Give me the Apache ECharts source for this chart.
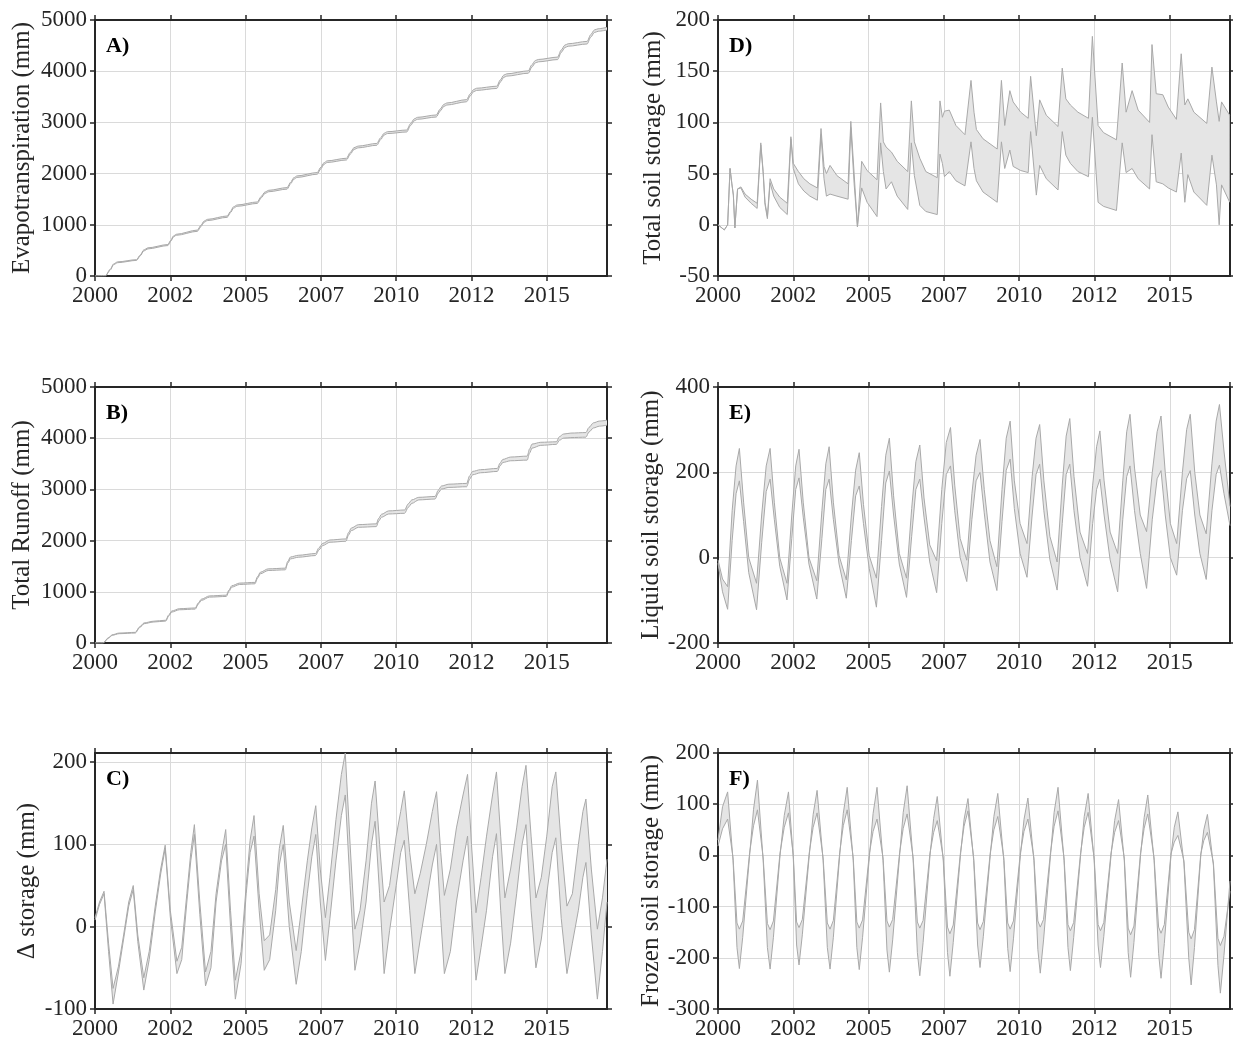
<!DOCTYPE html>
<html>
<head>
<meta charset="utf-8">
<script src="https://cdn.jsdelivr.net/npm/echarts@6/dist/echarts.min.js"></script>
<style>
  html, body { margin: 0; background: #fff; }
  #chart { width: 1233px; height: 1044px; }
</style>
</head>
<body>
<div id="chart"></div>
<script>
// A) cumulative evapotranspiration
const aT = [2000.00, 2000.35, 2000.50, 2000.62, 2000.75,
  2001.38, 2001.50, 2001.62, 2001.76, 2002.42, 2002.52, 2002.60, 2002.70,
  2003.40, 2003.52, 2003.62, 2003.73, 2004.39, 2004.50, 2004.60, 2004.72,
  2005.39, 2005.52, 2005.64, 2005.77, 2006.38, 2006.50, 2006.60, 2006.71,
  2007.38, 2007.50, 2007.60, 2007.71, 2008.35, 2008.48, 2008.60, 2008.74,
  2009.36, 2009.48, 2009.60, 2009.71, 2010.35, 2010.48, 2010.60, 2010.71,
  2011.33, 2011.46, 2011.58, 2011.68, 2012.34, 2012.46, 2012.57, 2012.67,
  2013.34, 2013.46, 2013.57, 2013.67, 2014.39, 2014.50, 2014.62, 2014.72,
  2015.36, 2015.48, 2015.60, 2015.71, 2016.34, 2016.46, 2016.58, 2016.71,
  2017.00]
const aLow = [0, 3, 112, 222, 260,
  305, 392, 490, 530, 595, 680, 760, 795,
  873, 968, 1048, 1082, 1146, 1237, 1327, 1361,
  1418, 1526, 1611, 1646, 1697, 1805, 1890, 1925,
  1989, 2094, 2179, 2217, 2266, 2383, 2473, 2503,
  2554, 2662, 2752, 2782, 2813, 2941, 3031, 3061,
  3105, 3220, 3310, 3339, 3403, 3519, 3599, 3625,
  3663, 3788, 3878, 3904, 3961, 4077, 4162, 4183,
  4227, 4366, 4461, 4488, 4532, 4665, 4755, 4780,
  4806]
const aHigh = [0, 7, 128, 238, 276,
  319, 408, 510, 550, 615, 700, 780, 815,
  897, 992, 1072, 1106, 1172, 1263, 1353, 1387,
  1446, 1554, 1639, 1674, 1727, 1835, 1920, 1955,
  2021, 2126, 2211, 2249, 2300, 2417, 2507, 2537,
  2590, 2698, 2788, 2818, 2851, 2979, 3069, 3099,
  3145, 3260, 3350, 3379, 3445, 3561, 3641, 3667,
  3707, 3832, 3922, 3948, 4007, 4123, 4208, 4229,
  4275, 4414, 4509, 4536, 4582, 4715, 4805, 4830,
  4856]

// B) cumulative runoff
const bT = [2000.00, 2000.27, 2000.45, 2000.57, 2000.80,
  2001.34, 2001.48, 2001.63, 2001.93, 2002.35, 2002.45, 2002.55, 2002.80,
  2003.33, 2003.43, 2003.53, 2003.80, 2004.36, 2004.45, 2004.54, 2004.80,
  2005.31, 2005.40, 2005.49, 2005.75, 2006.32, 2006.40, 2006.49, 2006.75,
  2007.32, 2007.44, 2007.56, 2007.80, 2008.33, 2008.42, 2008.51, 2008.75,
  2009.34, 2009.42, 2009.51, 2009.75, 2010.28, 2010.40, 2010.52, 2010.75,
  2011.29, 2011.40, 2011.50, 2011.75, 2012.34, 2012.44, 2012.54, 2012.80,
  2013.36, 2013.45, 2013.54, 2013.80, 2014.35, 2014.43, 2014.51, 2014.80,
  2015.32, 2015.42, 2015.55, 2015.80, 2016.30, 2016.40, 2016.55, 2016.75,
  2017.00]
const bLow = [0, 0, 95, 150, 182,
  195, 300, 377, 409, 428, 530, 604, 649,
  662, 760, 831, 896, 909, 1010, 1091, 1143,
  1156, 1270, 1351, 1416, 1429, 1560, 1643, 1675,
  1708, 1820, 1903, 1968, 1987, 2110, 2195, 2260,
  2273, 2380, 2455, 2520, 2533, 2650, 2727, 2795,
  2812, 2930, 3007, 3039, 3052, 3200, 3286, 3325,
  3351, 3460, 3526, 3559, 3572, 3710, 3806, 3860,
  3880, 3960, 4000, 4012, 4020, 4120, 4200, 4235,
  4254]
const bHigh = [0, 2, 105, 160, 194,
  208, 315, 392, 425, 445, 550, 625, 670,
  684, 782, 855, 920, 934, 1036, 1118, 1170,
  1184, 1300, 1382, 1448, 1462, 1595, 1680, 1713,
  1748, 1862, 1946, 2012, 2033, 2158, 2245, 2312,
  2327, 2436, 2513, 2580, 2598, 2717, 2795, 2845,
  2862, 2985, 3065, 3102, 3117, 3266, 3352, 3385,
  3410, 3515, 3585, 3632, 3650, 3790, 3885, 3920,
  3930, 4030, 4080, 4100, 4110, 4210, 4300, 4335,
  4351]

// C) change in storage
const cT = [2000.00, 2000.15, 2000.30, 2000.45, 2000.60, 2000.78, 2000.95, 2001.12,
  2001.27, 2001.42, 2001.62, 2001.80, 2002.00, 2002.18,
  2002.33, 2002.50, 2002.72, 2002.88, 2003.05, 2003.18,
  2003.30, 2003.48, 2003.67, 2003.85, 2004.02, 2004.20,
  2004.34, 2004.50, 2004.66, 2004.85, 2005.02, 2005.15,
  2005.28, 2005.45, 2005.62, 2005.80, 2006.00, 2006.12,
  2006.25, 2006.45, 2006.68, 2006.85, 2007.05, 2007.20,
  2007.33, 2007.48, 2007.65, 2007.80, 2008.00, 2008.18,
  2008.31, 2008.47, 2008.63, 2008.80, 2009.00, 2009.18,
  2009.30, 2009.45, 2009.60, 2009.78, 2010.00, 2010.15,
  2010.27, 2010.45, 2010.62, 2010.80, 2011.00, 2011.20,
  2011.34, 2011.48, 2011.60, 2011.80, 2012.00, 2012.22,
  2012.37, 2012.50, 2012.65, 2012.82, 2013.00, 2013.20,
  2013.33, 2013.47, 2013.61, 2013.80, 2014.00, 2014.18,
  2014.31, 2014.48, 2014.64, 2014.82, 2015.00, 2015.18,
  2015.30, 2015.48, 2015.67, 2015.85, 2016.05, 2016.20,
  2016.30, 2016.48, 2016.68, 2016.85, 2017.00]
const cHigh = [11, 30, 43, -20, -75, -48, -10, 30,
  50, -10, -62, -30, 25, 70,
  99, 20, -42, -25, 40, 90,
  124, 30, -55, -30, 40, 88,
  118, 20, -65, -30, 50, 105,
  135, 40, -17, -10, 45, 95,
  123, 30, -29, 20, 80, 120,
  147, 70, 11, 60, 130, 185,
  211, 100, -3, 20, 80, 150,
  177, 100, 30, 50, 110, 140,
  165, 90, 40, 65, 100, 140,
  164, 90, 38, 70, 120, 160,
  185, 100, 17, 60, 110, 160,
  188, 110, 35, 70, 120, 170,
  196, 110, 35, 60, 110, 170,
  188, 100, 25, 40, 100, 140,
  155, 70, -3, 35, 82]
const cLow = [8, 27, 40, -30, -94, -55, -15, 25,
  45, -18, -77, -40, 18, 64,
  95, 12, -57, -40, 30, 80,
  112, 15, -72, -50, 30, 80,
  100, 0, -88, -45, 40, 90,
  110, 20, -53, -40, 20, 75,
  100, 0, -70, -30, 40, 85,
  112, 30, -41, 10, 80, 135,
  160, 50, -53, -20, 30, 100,
  128, 40, -57, -5, 50, 90,
  105, 20, -57, -15, 30, 75,
  100, 10, -57, -30, 30, 80,
  110, 20, -65, -25, 20, 85,
  113, 20, -57, -20, 40, 100,
  124, 20, -50, -15, 40, 90,
  108, 10, -57, -20, 20, 60,
  78, -10, -88, -30, 30]

// D) total soil storage
const dT = [2000.00, 2000.21, 2000.32, 2000.40, 2000.46, 2000.51, 2000.56, 2000.65, 2000.76, 2000.90, 2001.10, 2001.30,
  2001.42, 2001.50, 2001.56, 2001.64, 2001.73, 2001.85, 2002.05, 2002.30,
  2002.42, 2002.50, 2002.67, 2002.85, 2003.05, 2003.30,
  2003.42, 2003.52, 2003.60, 2003.72, 2003.95, 2004.32,
  2004.41, 2004.52, 2004.63, 2004.77, 2004.95, 2005.28,
  2005.40, 2005.49, 2005.58, 2005.76, 2005.95, 2006.30,
  2006.42, 2006.52, 2006.70, 2006.90, 2007.28,
  2007.37, 2007.45, 2007.52, 2007.68, 2007.90, 2008.20,
  2008.40, 2008.50, 2008.58, 2008.80, 2009.27,
  2009.41, 2009.52, 2009.69, 2009.80, 2010.05, 2010.30,
  2010.38, 2010.57, 2010.68, 2010.90, 2011.29,
  2011.43, 2011.55, 2011.70, 2011.95, 2012.30,
  2012.43, 2012.62, 2012.80, 2013.23,
  2013.42, 2013.55, 2013.75, 2013.95, 2014.33,
  2014.41, 2014.55, 2014.77, 2014.95, 2015.22,
  2015.38, 2015.50, 2015.60, 2015.80, 2016.23,
  2016.40, 2016.55, 2016.64, 2016.72, 2016.99]
const dHigh = [0, -5, 0, 55, 40, 29, -3, 35, 37, 30, 25, 21,
  80, 52, 22, 8, 45, 35, 27, 21,
  86, 60, 52, 45, 40, 36,
  94, 57, 50, 58, 48, 40,
  101, 50, -2, 62, 53, 44,
  119, 81, 76, 71, 62, 52,
  121, 81, 65, 52, 46,
  121, 105, 111, 112, 97, 88,
  141, 110, 93, 84, 74,
  141, 97, 131, 120, 110, 104,
  145, 87, 122, 107, 96,
  153, 123, 117, 110, 104,
  184, 97, 90, 83,
  158, 110, 131, 112, 100,
  176, 128, 127, 115, 103,
  167, 117, 123, 110, 99,
  154, 120, 101, 120, 107]
const dLow = [0, -5, 0, 55, 40, 29, -3, 35, 36, 27, 21, 16,
  78, 50, 20, 6, 41, 28, 17, 10,
  84, 55, 40, 33, 28, 24,
  88, 45, 28, 30, 28, 25,
  95, 40, -2, 36, 22, 8,
  80, 52, 35, 42, 28, 15,
  80, 48, 19, 13, 10,
  69, 60, 47, 52, 43, 38,
  81, 55, 43, 32, 22,
  81, 55, 73, 57, 53, 51,
  91, 29, 58, 45, 34,
  91, 68, 60, 52, 47,
  105, 22, 18, 14,
  80, 51, 55, 45, 35,
  88, 42, 40, 36, 32,
  70, 22, 49, 32, 19,
  68, 39, 0, 39, 22]

// E) liquid soil storage
const eT = [2000.00, 2000.15, 2000.32, 2000.47, 2000.60, 2000.71, 2000.85, 2001.02,
  2001.28, 2001.45, 2001.60, 2001.73, 2001.87, 2002.05,
  2002.29, 2002.45, 2002.58, 2002.69, 2002.83, 2003.02,
  2003.28, 2003.45, 2003.58, 2003.69, 2003.83, 2004.02,
  2004.26, 2004.43, 2004.57, 2004.69, 2004.83, 2005.02,
  2005.26, 2005.43, 2005.57, 2005.69, 2005.83, 2006.02,
  2006.26, 2006.43, 2006.57, 2006.70, 2006.84, 2007.03,
  2007.26, 2007.43, 2007.58, 2007.72, 2007.86, 2008.04,
  2008.26, 2008.43, 2008.57, 2008.70, 2008.84, 2009.03,
  2009.26, 2009.43, 2009.57, 2009.70, 2009.84, 2010.03,
  2010.26, 2010.43, 2010.56, 2010.68, 2010.82, 2011.02,
  2011.26, 2011.43, 2011.56, 2011.68, 2011.82, 2012.02,
  2012.27, 2012.44, 2012.57, 2012.68, 2012.82, 2013.02,
  2013.27, 2013.44, 2013.57, 2013.68, 2013.83, 2014.02,
  2014.23, 2014.42, 2014.58, 2014.71, 2014.85, 2015.02,
  2015.23, 2015.42, 2015.56, 2015.68, 2015.83, 2016.00,
  2016.21, 2016.40, 2016.54, 2016.65, 2016.80, 2017.00]
const eHigh = [-5, -50, -68, 110, 215, 256, 130, 0,
  -60, 100, 215, 256, 130, 0,
  -60, 100, 215, 254, 130, 0,
  -54, 110, 220, 260, 130, 5,
  -52, 100, 205, 246, 125, 5,
  -48, 120, 240, 280, 145, 10,
  -48, 115, 225, 264, 140, 30,
  -7, 160, 270, 305, 170, 45,
  -6, 150, 240, 277, 160, 40,
  -21, 160, 280, 320, 180, 80,
  33, 190, 280, 312, 180, 50,
  -10, 170, 285, 326, 190, 60,
  10, 170, 260, 297, 180, 60,
  10, 180, 295, 336, 210, 100,
  61, 200, 295, 332, 200, 80,
  33, 200, 300, 336, 200, 100,
  56, 220, 320, 359, 250, 120]
const eLow = [-13, -80, -121, 40, 150, 180, 85, -35,
  -122, 35, 155, 184, 90, -20,
  -99, 45, 160, 187, 95, -15,
  -97, 45, 160, 184, 90, -15,
  -95, 40, 145, 168, 80, -25,
  -116, 40, 175, 203, 100, -15,
  -93, 50, 160, 184, 95, -10,
  -82, 80, 195, 215, 110, 0,
  -56, 90, 180, 200, 105, -10,
  -77, 85, 205, 231, 115, 10,
  -46, 100, 195, 219, 110, -5,
  -76, 80, 195, 219, 110, 0,
  -67, 80, 160, 184, 100, -5,
  -80, 90, 190, 215, 110, 10,
  -72, 90, 185, 204, 100, 0,
  -41, 110, 185, 204, 100, 10,
  -51, 110, 195, 217, 150, 75]

// F) frozen soil storage
const fT = [2000.00, 2000.15,
  2000.32, 2000.50, 2000.63, 2000.71, 2000.82, 2001.05, 2001.18,
  2001.31, 2001.50, 2001.64, 2001.73, 2001.84, 2002.06, 2002.20,
  2002.34, 2002.50, 2002.61, 2002.69, 2002.80, 2003.03, 2003.16,
  2003.29, 2003.49, 2003.63, 2003.72, 2003.83, 2004.04, 2004.16,
  2004.29, 2004.49, 2004.61, 2004.69, 2004.80, 2005.03, 2005.15,
  2005.28, 2005.48, 2005.61, 2005.69, 2005.80, 2006.03, 2006.15,
  2006.28, 2006.48, 2006.62, 2006.70, 2006.81, 2007.04, 2007.16,
  2007.28, 2007.48, 2007.62, 2007.70, 2007.81, 2008.05, 2008.17,
  2008.30, 2008.49, 2008.62, 2008.70, 2008.81, 2009.04, 2009.16,
  2009.29, 2009.49, 2009.62, 2009.70, 2009.81, 2010.04, 2010.16,
  2010.29, 2010.49, 2010.62, 2010.70, 2010.81, 2011.04, 2011.16,
  2011.29, 2011.49, 2011.62, 2011.70, 2011.81, 2012.04, 2012.16,
  2012.29, 2012.49, 2012.62, 2012.70, 2012.81, 2013.05, 2013.17,
  2013.30, 2013.49, 2013.62, 2013.70, 2013.81, 2014.03, 2014.15,
  2014.27, 2014.48, 2014.63, 2014.71, 2014.82, 2015.04, 2015.15,
  2015.27, 2015.47, 2015.63, 2015.71, 2015.82, 2016.03, 2016.13,
  2016.25, 2016.45, 2016.60, 2016.68, 2016.80, 2017.00]
const fHigh = [30, 95,
  124, -10, -180, -221, -160, 0, 90,
  147, -10, -180, -222, -160, 0, 78,
  124, -5, -175, -214, -155, 0, 80,
  127, -10, -180, -222, -160, 0, 82,
  133, -10, -180, -223, -160, 0, 82,
  133, -10, -185, -228, -165, 0, 84,
  136, -10, -190, -235, -170, 0, 72,
  115, -10, -190, -236, -170, 0, 70,
  111, -10, -175, -219, -158, 0, 76,
  121, -10, -182, -227, -163, 0, 70,
  112, -10, -184, -230, -165, 0, 84,
  133, -10, -180, -225, -160, 0, 76,
  121, -10, -175, -219, -158, 0, 68,
  109, -10, -190, -238, -170, 0, 74,
  118, -10, -192, -240, -172, 0, 55,
  85, -15, -200, -253, -180, 0, 50,
  80, -20, -215, -269, -195, -50]
const fLow = [18, 52,
  71, -5, -132, -144, -128, 5, 58,
  89, -5, -133, -145, -128, 5, 55,
  83, 0, -130, -141, -125, 5, 55,
  83, -5, -132, -144, -127, 5, 58,
  89, -5, -130, -142, -126, 5, 47,
  71, -5, -128, -140, -125, 5, 53,
  81, -5, -130, -142, -127, 5, 45,
  68, -5, -140, -153, -136, 5, 57,
  87, -5, -132, -145, -129, 5, 50,
  76, -5, -132, -144, -128, 5, 47,
  71, -5, -128, -140, -125, 5, 57,
  87, -5, -135, -147, -131, 5, 55,
  84, -5, -135, -147, -131, 5, 45,
  68, -5, -142, -155, -138, 5, 53,
  81, -5, -140, -152, -135, 3, 26,
  39, -10, -150, -163, -145, 3, 29,
  45, -15, -162, -176, -158, -70]

const font = '"Liberation Serif", "Times New Roman", serif'
const ink = '#262626'
const lineColor = '#a9a9a9'
const bandColor = '#e5e5e5'
const gridColor = '#dadada'

const panels = [
  { label: 'A)', left: 95, top: 20, min: 0, max: 5000, interval: 1000, name: 'Evapotranspiration (mm)', nameGap: 60, t: aT, hi: aHigh, lo: aLow, smooth: 0.3 },
  { label: 'B)', left: 95, top: 387, min: 0, max: 5000, interval: 1000, name: 'Total Runoff (mm)', nameGap: 60, t: bT, hi: bHigh, lo: bLow, smooth: 0.3 },
  { label: 'C)', left: 95, top: 753, min: -100, max: 211, interval: 100, name: 'Δ storage (mm)', nameGap: 55, t: cT, hi: cHigh, lo: cLow, smooth: false },
  { label: 'D)', left: 718, top: 20, min: -50, max: 200, interval: 50, name: 'Total soil storage (mm)', nameGap: 52, t: dT, hi: dHigh, lo: dLow, smooth: false },
  { label: 'E)', left: 718, top: 387, min: -200, max: 400, interval: 200, name: 'Liquid soil storage (mm)', nameGap: 52, t: eT, hi: eHigh, lo: eLow, smooth: false },
  { label: 'F)', left: 718, top: 753, min: -300, max: 200, interval: 100, name: 'Frozen soil storage (mm)', nameGap: 52, t: fT, hi: fHigh, lo: fLow, smooth: false },
]

const tickText = { fontSize: 23, fontFamily: font, color: ink }

function bandSeries(p, i) {
  return {
    type: 'custom',
    xAxisIndex: i * 2,
    yAxisIndex: i * 2,
    data: [[2000, p.min]],
    silent: true,
    z: 1,
    renderItem(params, api) {
      const points = []
      for (let k = 0; k < p.t.length; k++) points.push(api.coord([p.t[k], p.hi[k]]))
      for (let k = p.t.length - 1; k >= 0; k--) points.push(api.coord([p.t[k], p.lo[k]]))
      return { type: 'polygon', shape: { points }, style: { fill: bandColor } }
    },
  }
}

function lineSeries(p, i, values) {
  return {
    type: 'line',
    xAxisIndex: i * 2,
    yAxisIndex: i * 2,
    data: p.t.map((t, k) => [t, values[k]]),
    showSymbol: false,
    symbol: 'none',
    smooth: p.smooth,
    smoothMonotone: 'x',
    silent: true,
    z: 2,
    lineStyle: { color: lineColor, width: 1 },
  }
}

const grid = []
const xAxis = []
const yAxis = []
const series = []
const graphic = []

panels.forEach((p, i) => {
  grid.push({ left: p.left, top: p.top, width: 512, height: 256, outerBoundsMode: 'none' })

  const frame = { show: true, onZero: false, lineStyle: { color: ink, width: 2 } }
  const ticks = { show: true, length: 5, lineStyle: { color: ink, width: 1.5 } }
  const xBase = { type: 'value', gridIndex: i, min: 2000, max: 2017, interval: 2.5, axisLine: frame, axisTick: ticks }
  const yBase = { type: 'value', gridIndex: i, min: p.min, max: p.max, interval: p.interval, axisLine: frame, axisTick: ticks }

  xAxis.push({
    ...xBase,
    position: 'bottom',
    axisLabel: { ...tickText, margin: 8, showMaxLabel: false, formatter: (v) => String(Math.floor(v)) },
    splitLine: { show: true, lineStyle: { color: gridColor, width: 1 } },
  })
  xAxis.push({ ...xBase, position: 'top', axisLabel: { show: false }, splitLine: { show: false } })

  yAxis.push({
    ...yBase,
    position: 'left',
    axisLabel: { ...tickText, margin: 8, showMaxLabel: p.max % p.interval === 0, formatter: (v) => String(v) },
    splitLine: { show: true, lineStyle: { color: gridColor, width: 1 } },
    name: p.name,
    nameLocation: 'middle',
    nameGap: p.nameGap,
    nameTextStyle: { fontSize: 25, fontFamily: font, color: ink },
  })
  yAxis.push({ ...yBase, position: 'right', axisLabel: { show: false }, splitLine: { show: false } })

  series.push(bandSeries(p, i))
  series.push(lineSeries(p, i, p.hi))
  series.push(lineSeries(p, i, p.lo))

  graphic.push({
    type: 'text',
    left: p.left + 11,
    top: p.top + 15,
    z: 10,
    style: { text: p.label, font: 'bold 22px ' + font, fill: '#000' },
  })
})

const chart = echarts.init(document.getElementById('chart'))
chart.setOption({
  animation: false,
  backgroundColor: '#fff',
  grid,
  xAxis,
  yAxis,
  series,
  graphic,
})
</script>
</body>
</html>
